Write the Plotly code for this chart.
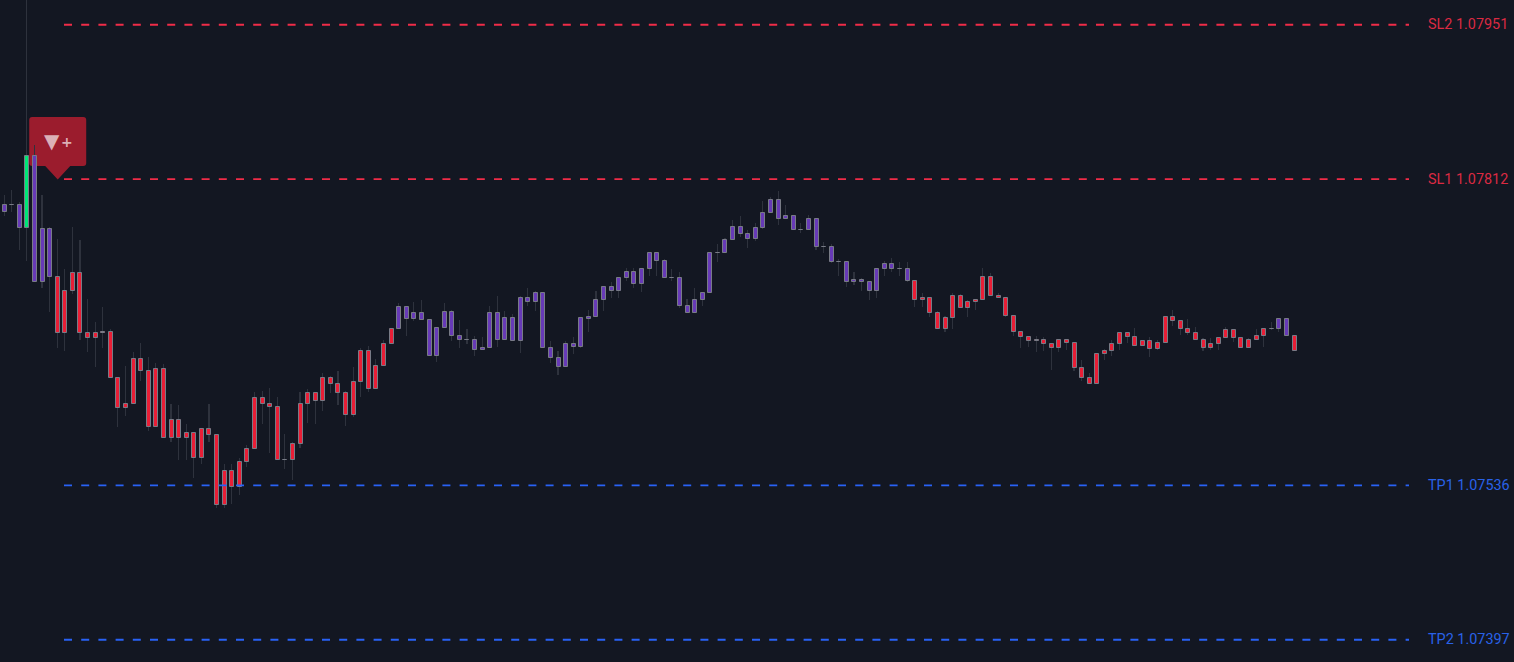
import numpy as np
import plotly.graph_objects as go

# Candle data (prices)
body_high = [
1.077889,1.077889,1.077889,1.078330,1.078330,1.077672,1.077672,1.077240,1.077114,1.077276,
1.077276,1.076736,1.076736,1.076745,1.076745,1.076330,1.076096,1.076501,1.076501,1.076393,
1.076411,1.076411,1.075952,1.075952,1.075835,1.075835,1.075871,1.075871,1.075817,1.075492,
1.075492,1.075574,1.075691,1.076150,1.076150,1.076096,1.076069,1.075592,1.075736,1.076096,
1.076195,1.076195,1.076330,1.076330,1.076276,1.076195,1.076294,1.076573,1.076573,1.076438,
1.076636,1.076772,1.076970,1.076970,1.076916,1.076916,1.076853,1.076781,1.076925,1.076925,
1.076709,1.076673,1.076673,1.076600,1.076916,1.076916,1.076871,1.076871,1.077051,1.077051,
1.077096,1.077096,1.076600,1.076510,1.076636,1.076636,1.076871,1.076880,1.077033,1.077150,
1.077150,1.077231,1.077285,1.077285,1.077312,1.077456,1.077456,1.077384,1.077231,1.077231,
1.076979,1.077033,1.077096,1.077456,1.077456,1.077573,1.077690,1.077690,1.077627,1.077681,
1.077817,1.077934,1.077934,1.077790,1.077790,1.077663,1.077762,1.077762,1.077510,1.077510,
1.077375,1.077375,1.077213,1.077213,1.077195,1.077312,1.077357,1.077357,1.077312,1.077312,
1.077204,1.077051,1.077051,1.076916,1.076871,1.077069,1.077069,1.077015,1.077033,1.077240,
1.077240,1.077069,1.077051,1.076889,1.076745,1.076700,1.076673,1.076673,1.076636,1.076673,
1.076673,1.076645,1.076420,1.076330,1.076546,1.076573,1.076636,1.076736,1.076736,1.076700,
1.076664,1.076664,1.076645,1.076880,1.076880,1.076844,1.076772,1.076736,1.076673,1.076636,
1.076691,1.076763,1.076763,1.076691,1.076673,1.076709,1.076772,1.076772,1.076862,1.076862,1.076709,
]
body_low = [
1.077826,1.077889,1.077681,1.077681,1.077195,1.077195,1.077240,1.076736,1.076736,1.077114,
1.076736,1.076691,1.076691,1.076736,1.076330,1.076060,1.076060,1.076096,1.076393,1.075889,
1.075889,1.075790,1.075790,1.075790,1.075790,1.075610,1.075610,1.075817,1.075186,1.075186,
1.075348,1.075348,1.075574,1.075691,1.076096,1.076069,1.075592,1.075592,1.075592,1.075736,
1.076096,1.076123,1.076123,1.076276,1.076195,1.075997,1.075997,1.076294,1.076231,1.076231,
1.076438,1.076636,1.076772,1.076862,1.076862,1.076853,1.076528,1.076528,1.076781,1.076709,
1.076673,1.076673,1.076582,1.076582,1.076600,1.076673,1.076673,1.076664,1.076664,1.077015,
1.077015,1.076600,1.076510,1.076429,1.076429,1.076609,1.076609,1.076862,1.076880,1.077033,
1.077114,1.077114,1.077231,1.077177,1.077177,1.077312,1.077384,1.077231,1.077231,1.076979,
1.076916,1.076916,1.077033,1.077096,1.077456,1.077456,1.077573,1.077627,1.077582,1.077582,
1.077681,1.077817,1.077762,1.077762,1.077663,1.077663,1.077663,1.077510,1.077510,1.077375,
1.077375,1.077195,1.077195,1.077195,1.077114,1.077114,1.077312,1.077312,1.077312,1.077204,
1.077033,1.077033,1.076916,1.076772,1.076772,1.076871,1.076961,1.076961,1.077015,1.077033,
1.077069,1.077051,1.076889,1.076745,1.076700,1.076664,1.076664,1.076636,1.076600,1.076600,
1.076645,1.076420,1.076330,1.076276,1.076276,1.076546,1.076573,1.076636,1.076700,1.076618,
1.076618,1.076591,1.076591,1.076645,1.076844,1.076772,1.076736,1.076673,1.076600,1.076600,
1.076636,1.076691,1.076691,1.076600,1.076600,1.076673,1.076709,1.076772,1.076772,1.076709,1.076573,
]
wick_high = [
1.077979,1.078024,1.077916,1.079750,1.078429,1.077979,1.077690,1.077582,1.077312,1.077690,
1.077573,1.077042,1.076835,1.076970,1.076772,1.076330,1.076438,1.076564,1.076645,1.076519,
1.076465,1.076456,1.076096,1.076087,1.075916,1.075835,1.075871,1.076096,1.075817,1.075555,
1.075555,1.075610,1.075727,1.076204,1.076213,1.076240,1.076159,1.075826,1.075754,1.076204,
1.076231,1.076204,1.076375,1.076348,1.076393,1.076213,1.076429,1.076600,1.076618,1.076501,
1.076673,1.076781,1.077006,1.076970,1.077015,1.077033,1.076862,1.076781,1.077006,1.076943,
1.076853,1.076772,1.076709,1.076700,1.076979,1.077069,1.076934,1.076907,1.077069,1.077141,
1.077114,1.077096,1.076664,1.076573,1.076664,1.076700,1.076871,1.076943,1.077114,1.077159,
1.077195,1.077240,1.077321,1.077321,1.077312,1.077456,1.077456,1.077402,1.077312,1.077285,
1.077042,1.077141,1.077096,1.077456,1.077537,1.077591,1.077753,1.077790,1.077663,1.077726,
1.077925,1.077961,1.078015,1.077889,1.077790,1.077726,1.077799,1.077772,1.077555,1.077537,
1.077402,1.077375,1.077285,1.077231,1.077195,1.077312,1.077384,1.077411,1.077375,1.077375,
1.077204,1.077096,1.077051,1.076934,1.076889,1.077096,1.077087,1.077033,1.077033,1.077321,
1.077276,1.077096,1.077051,1.076889,1.076745,1.076700,1.076709,1.076700,1.076636,1.076673,
1.076673,1.076645,1.076492,1.076375,1.076555,1.076591,1.076673,1.076745,1.076736,1.076781,
1.076664,1.076700,1.076673,1.076889,1.076943,1.076853,1.076862,1.076790,1.076691,1.076691,
1.076700,1.076790,1.076763,1.076691,1.076691,1.076772,1.076781,1.076835,1.076862,1.076862,1.076709,
]
wick_low = [
1.077790,1.077826,1.077483,1.077384,1.077195,1.077141,1.076925,1.076600,1.076573,1.077087,
1.076673,1.076564,1.076429,1.076600,1.076330,1.075889,1.075988,1.076096,1.076303,1.075853,
1.075889,1.075790,1.075754,1.075592,1.075592,1.075429,1.075555,1.075754,1.075159,1.075159,
1.075195,1.075276,1.075529,1.075691,1.075916,1.075655,1.075592,1.075510,1.075411,1.075700,
1.075925,1.075916,1.076033,1.076195,1.076087,1.075898,1.075979,1.076159,1.076204,1.076231,
1.076438,1.076636,1.076772,1.076709,1.076844,1.076853,1.076528,1.076474,1.076781,1.076664,
1.076600,1.076636,1.076528,1.076582,1.076600,1.076609,1.076673,1.076664,1.076555,1.076979,
1.076934,1.076600,1.076465,1.076357,1.076429,1.076546,1.076600,1.076745,1.076880,1.076934,
1.077051,1.077051,1.077204,1.077141,1.077105,1.077249,1.077249,1.077231,1.077204,1.076961,
1.076916,1.076916,1.076979,1.077096,1.077375,1.077456,1.077573,1.077600,1.077501,1.077564,
1.077672,1.077817,1.077708,1.077762,1.077663,1.077636,1.077663,1.077483,1.077456,1.077366,
1.077249,1.077150,1.077168,1.077114,1.077033,1.077051,1.077249,1.077285,1.077249,1.077195,
1.076970,1.076970,1.076880,1.076772,1.076745,1.076772,1.076961,1.076880,1.076943,1.077033,
1.077069,1.077051,1.076880,1.076709,1.076600,1.076609,1.076564,1.076573,1.076402,1.076564,
1.076582,1.076393,1.076303,1.076276,1.076276,1.076492,1.076528,1.076582,1.076645,1.076618,
1.076618,1.076519,1.076582,1.076645,1.076799,1.076718,1.076718,1.076673,1.076573,1.076582,
1.076582,1.076691,1.076655,1.076600,1.076600,1.076673,1.076609,1.076763,1.076745,1.076709,1.076573,
]
body_state = list("PPPGPPP" + "R" * 45 + "P" * 68 + "R" * 48 + "PPR")

level_names = ["SL2", "SL1", "TP1", "TP2"]
level_values = [1.07951, 1.07812, 1.07536, 1.07397]
level_kinds = ["stop", "stop", "target", "target"]

# Styles
BG = "#131722"
STATE_COLOR = {"P": "#673ab7", "R": "#e91e36", "G": "#00e676"}
KIND_LINE = {"stop": "#f02c48", "target": "#2962f5"}
KIND_TEXT = {"stop": "#dc2a42", "target": "#2962e8"}

W, H = 1514, 662
STEP = 7.588      # pixels per candle
FIRST = 4.6       # pixel centre of first candle
px = 1 / STEP
x_range = [-FIRST * px, (W - FIRST) * px]
# Price window; nudged a quarter pixel so candle edges snap to the intended row
y_scale = 0.000009008
y_top = 1.0797307 + 0.25 * y_scale
y_range = [y_top - H * y_scale, y_top]

idx = np.arange(len(body_high))
body_high = np.array(body_high)
body_low = np.array(body_low)
wick_high = np.array(wick_high)
wick_low = np.array(wick_low)

fig = go.Figure()
fig.add_trace(go.Bar(
    x=idx, base=wick_low, y=wick_high - wick_low,
    width=0.1 * px, offset=-0.55 * px,
    marker=dict(color="#2e323d", line=dict(width=0)),
    hoverinfo="skip", showlegend=False,
))
fig.add_trace(go.Bar(
    x=idx, base=body_low, y=body_high - body_low,
    width=4 * px, offset=-2 * px,
    marker=dict(color=[STATE_COLOR[s] for s in body_state],
                line=dict(color="#787b86", width=1)),
    hoverinfo="skip", showlegend=False,
))

line_start = (64 - FIRST) * px
line_end = (1409 - FIRST) * px
label_x = (1426 - FIRST) * px
for name, value, kind in zip(level_names, level_values, level_kinds):
    fig.add_trace(go.Scatter(
        x=[line_start, line_end], y=[value, value], mode="lines",
        line=dict(color=KIND_LINE[kind], width=1.8, dash="8px,9.2px"),
        hoverinfo="skip", showlegend=False,
    ))
    fig.add_annotation(
        x=label_x, y=value, xanchor="left", yanchor="middle", showarrow=False,
        text=f"{name} {value:.5f}",
        font=dict(family="Roboto", size=14.4, color=KIND_TEXT[kind]),
    )

# Entry badge, anchored on the candle and level it marks
badge_anchor_x = 7
badge_anchor_y = level_values[1]
fig.add_shape(
    type="path", layer="below", xref="x", yref="y",
    xsizemode="pixel", ysizemode="pixel",
    xanchor=badge_anchor_x, yanchor=badge_anchor_y,
    path=("M -28.5 59 Q -28.5 62 -25.5 62 L 25.5 62 Q 28.5 62 28.5 59 "
          "L 28.5 16 Q 28.5 13 25.5 13 L 12.5 13 L 0 -0.5 L -12.5 13 L -25.5 13 "
          "Q -28.5 13 -28.5 16 Z"),
    fillcolor="#9b1c2d", line=dict(width=0),
)
fig.add_annotation(
    x=badge_anchor_x, y=badge_anchor_y, xshift=-5.5, yshift=38, showarrow=False,
    text="▼", font=dict(family="DejaVu Sans", size=20, color="rgba(255,255,255,0.66)"),
)
fig.add_annotation(
    x=badge_anchor_x, y=badge_anchor_y, xshift=9.5, yshift=37, showarrow=False,
    text="<b>+</b>", font=dict(family="DejaVu Sans", size=14, color="rgba(255,255,255,0.66)"),
)

fig.update_layout(
    width=W, height=H, margin=dict(l=0, r=0, t=0, b=0),
    paper_bgcolor=BG, plot_bgcolor=BG, barmode="overlay",
    bargap=0, bargroupgap=0, showlegend=False,
    xaxis=dict(visible=False, range=x_range, fixedrange=True),
    yaxis=dict(visible=False, range=y_range, fixedrange=True),
)

fig.write_html(
    "out.html",
    config={"displayModeBar": False},
    post_script=("document.body.style.margin='0';"
                 "document.body.style.overflow='hidden';"
                 f"document.body.style.background='{BG}';"),
)
